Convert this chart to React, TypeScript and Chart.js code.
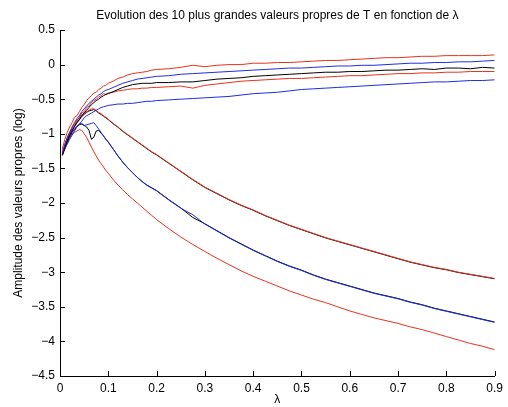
import React, { useEffect, useRef } from "react";
import { Chart, registerables } from "chart.js";

Chart.register(...registerables);

const LAMBDA = [
  0.005, 0.01, 0.015, 0.02, 0.025, 0.03, 0.035, 0.04, 0.045, 0.05,
  0.055, 0.06, 0.065, 0.07, 0.075, 0.08, 0.085, 0.09, 0.095, 0.1,
  0.11, 0.12, 0.13, 0.14, 0.15, 0.16, 0.17, 0.18, 0.19, 0.2,
  0.225, 0.25, 0.275, 0.3, 0.325, 0.35, 0.375, 0.4, 0.425, 0.45,
  0.475, 0.5, 0.525, 0.55, 0.575, 0.6, 0.625, 0.65, 0.675, 0.7,
  0.725, 0.75, 0.775, 0.8, 0.825, 0.85, 0.875, 0.9,
];

const X_TICKS = [0, 0.1, 0.2, 0.3, 0.4, 0.5, 0.6, 0.7, 0.8, 0.9];
const Y_TICKS = [0.5, 0, -0.5, -1, -1.5, -2, -2.5, -3, -3.5, -4, -4.5];

// upper group (rising)
const RED_TOP = [
  -1.22, -1.08, -0.98, -0.9, -0.84, -0.76, -0.74, -0.68, -0.62, -0.58,
  -0.52, -0.48, -0.45, -0.41, -0.4, -0.36, -0.34, -0.31, -0.3, -0.27,
  -0.24, -0.2, -0.18, -0.15, -0.13, -0.12, -0.11, -0.1, -0.08, -0.07,
  -0.06, -0.04, -0.01, -0.03, -0.01, 0.0, 0.0, 0.02, 0.02, 0.03,
  0.03, 0.04, 0.05, 0.06, 0.06, 0.07, 0.08, 0.09, 0.1, 0.1,
  0.11, 0.12, 0.12, 0.13, 0.13, 0.13, 0.13, 0.14,
];
const BLUE_UP = [
  -1.28, -1.15, -1.05, -0.98, -0.9, -0.84, -0.78, -0.74, -0.68, -0.64,
  -0.6, -0.56, -0.53, -0.5, -0.47, -0.44, -0.42, -0.39, -0.37, -0.36,
  -0.33, -0.3, -0.27, -0.25, -0.23, -0.21, -0.2, -0.19, -0.18, -0.17,
  -0.16, -0.14, -0.13, -0.12, -0.11, -0.1, -0.09, -0.08, -0.07, -0.06,
  -0.05, -0.05, -0.04, -0.03, -0.02, -0.02, -0.01, -0.01, 0.0, 0.01,
  0.02, 0.02, 0.03, 0.03, 0.04, 0.04, 0.05, 0.06,
];
const BLACK_UP = [
  -1.3, -1.2, -1.1, -1.02, -0.96, -0.9, -0.84, -0.8, -0.74, -0.7,
  -0.66, -0.62, -0.58, -0.55, -0.52, -0.5, -0.47, -0.45, -0.43, -0.42,
  -0.39, -0.36, -0.33, -0.31, -0.29, -0.28, -0.27, -0.27, -0.27, -0.26,
  -0.26, -0.25, -0.25, -0.23, -0.21, -0.2, -0.19, -0.17, -0.16, -0.15,
  -0.14, -0.13, -0.12, -0.11, -0.11, -0.1, -0.1, -0.09, -0.08, -0.08,
  -0.07, -0.06, -0.07, -0.05, -0.05, -0.06, -0.04, -0.05,
];
const RED_UP = [
  -1.25, -1.15, -1.08, -1.0, -0.95, -0.88, -0.8, -0.77, -0.7, -0.68,
  -0.62, -0.6, -0.55, -0.52, -0.5, -0.47, -0.45, -0.42, -0.43, -0.41,
  -0.4, -0.38, -0.37, -0.36, -0.35, -0.35, -0.34, -0.34, -0.33, -0.33,
  -0.32, -0.31, -0.34, -0.3, -0.28, -0.26, -0.24, -0.23, -0.22, -0.21,
  -0.2, -0.2, -0.19, -0.18, -0.17, -0.16, -0.16, -0.15, -0.14, -0.13,
  -0.13, -0.12, -0.12, -0.11, -0.11, -0.1, -0.1, -0.1,
];
const BLUE_LOW_UP = [
  -1.3, -1.22, -1.15, -1.08, -1.02, -0.96, -0.9, -0.86, -0.82, -0.77,
  -0.74, -0.72, -0.7, -0.68, -0.66, -0.64, -0.62, -0.61, -0.6, -0.59,
  -0.58, -0.57, -0.57, -0.56, -0.56, -0.55, -0.54, -0.53, -0.53, -0.52,
  -0.51, -0.5, -0.49, -0.48, -0.47, -0.46, -0.44, -0.42, -0.41, -0.4,
  -0.38, -0.36, -0.35, -0.34, -0.33, -0.32, -0.31, -0.3, -0.29, -0.28,
  -0.27, -0.26, -0.25, -0.25, -0.24, -0.23, -0.23, -0.22,
];

// lower group (falling)
const RED_DOWN_1 = [
  -1.27, -1.18, -1.06, -0.98, -0.92, -0.86, -0.82, -0.76, -0.73, -0.7,
  -0.68, -0.66, -0.64, -0.64, -0.66, -0.69, -0.71, -0.74, -0.76, -0.79,
  -0.85, -0.9, -0.96, -1.01, -1.06, -1.11, -1.16, -1.21, -1.26, -1.3,
  -1.42, -1.54, -1.66, -1.77, -1.86, -1.95, -2.03, -2.1, -2.18, -2.25,
  -2.32, -2.38, -2.44, -2.5, -2.55, -2.6, -2.65, -2.7, -2.75, -2.8,
  -2.85, -2.89, -2.93, -2.96, -3.0, -3.03, -3.06, -3.09,
];
const BLACK_DOWN_1 = [
  -1.3, -1.2, -1.1, -1.0, -0.94, -0.88, -0.84, -0.79, -0.75, -0.72,
  -0.69, -0.67, -0.66, -0.65, -0.67, -0.7, -0.72, -0.745, -0.77, -0.795,
  -0.855, -0.905, -0.965, -1.015, -1.065, -1.115, -1.165, -1.215, -1.265, -1.305,
  -1.425, -1.545, -1.665, -1.775, -1.865, -1.955, -2.035, -2.105, -2.185, -2.255,
  -2.325, -2.385, -2.445, -2.505, -2.555, -2.605, -2.655, -2.705, -2.755, -2.805,
  -2.855, -2.895, -2.935, -2.965, -3.005, -3.035, -3.065, -3.095,
];
const BLACK_DOWN_2 = [
  -1.3, -1.2, -1.12, -1.05, -0.98, -0.94, -0.9, -0.87, -0.86, -0.88,
  -0.9, -0.95, -1.08, -1.05, -0.96, -0.95, -0.99, -1.03, -1.08, -1.12,
  -1.22, -1.32, -1.41, -1.49, -1.56, -1.63, -1.69, -1.74, -1.78, -1.82,
  -1.95, -2.07, -2.21, -2.3, -2.4, -2.5, -2.59, -2.68, -2.76, -2.84,
  -2.91, -2.97, -3.04, -3.1, -3.15, -3.2, -3.25, -3.3, -3.34, -3.38,
  -3.43, -3.47, -3.52, -3.56, -3.6, -3.64, -3.68, -3.72,
];
const BLUE_DOWN_2 = [
  -1.28, -1.18, -1.1, -1.04, -0.97, -0.93, -0.89, -0.86, -0.85, -0.88,
  -0.87, -0.86, -0.85, -0.84, -0.88, -0.93, -0.98, -1.03, -1.08, -1.12,
  -1.22, -1.32, -1.41, -1.49, -1.56, -1.63, -1.69, -1.745, -1.785, -1.825,
  -1.955, -2.075, -2.17, -2.305, -2.405, -2.505, -2.595, -2.685, -2.765, -2.845,
  -2.915, -2.975, -3.045, -3.105, -3.155, -3.205, -3.255, -3.305, -3.345, -3.385,
  -3.435, -3.475, -3.525, -3.565, -3.605, -3.645, -3.685, -3.725,
];
const RED_DOWN_3 = [
  -1.32, -1.22, -1.12, -1.06, -1.0, -0.98, -0.96, -0.94, -0.95, -1.0,
  -1.05, -1.12, -1.19, -1.26, -1.32, -1.38, -1.43, -1.48, -1.53, -1.57,
  -1.66, -1.74, -1.81, -1.88, -1.94, -2.0, -2.06, -2.12, -2.18, -2.24,
  -2.37, -2.49, -2.6, -2.7, -2.8, -2.89, -2.98, -3.06, -3.13, -3.2,
  -3.27, -3.33, -3.39, -3.44, -3.5, -3.56, -3.61, -3.66, -3.7, -3.74,
  -3.79, -3.83, -3.88, -3.93, -3.98, -4.03, -4.07, -4.12,
];

const RED = "rgb(232,50,28)";
const BLUE = "rgb(30,45,225)";
const BLACK = "#000000";
const FONT = '"Liberation Sans", Arial, Helvetica, sans-serif';

const fmt = (v: number) => {
  const r = Math.round(v * 10) / 10;
  if (r === 0) return "0";
  const s = Math.abs(r).toString();
  return r < 0 ? "\u2212" + s : s;
};

export default function App() {
  const ref = useRef<HTMLCanvasElement>(null);

  useEffect(() => {
    if (!ref.current) return;
    const pts = (ys: number[]) => LAMBDA.map((x, i) => ({ x, y: ys[i] }));
    const ds = (label: string, ys: number[], color: string) => ({
      label,
      data: pts(ys),
      borderColor: color,
      backgroundColor: color,
      borderWidth: 1,
      pointRadius: 0,
      tension: 0,
      fill: false,
    });

    const inwardTicks = {
      id: "inwardTicks",
      afterDraw(chart: any) {
        const { ctx, scales, chartArea } = chart;
        const xs = scales.x;
        const ysc = scales.y;
        ctx.save();
        ctx.strokeStyle = "#000";
        ctx.lineWidth = 1;
        ctx.beginPath();
        X_TICKS.forEach((v) => {
          const px = Math.round(xs.getPixelForValue(v)) + 0.5;
          ctx.moveTo(px, chartArea.bottom);
          ctx.lineTo(px, chartArea.bottom - 5);
        });
        Y_TICKS.forEach((v) => {
          const py = Math.round(ysc.getPixelForValue(v)) + 0.5;
          ctx.moveTo(chartArea.left, py);
          ctx.lineTo(chartArea.left + 5, py);
        });
        ctx.stroke();
        ctx.restore();
      },
    };

    const chart = new Chart(ref.current, {
      type: "line",
      data: {
        datasets: [
          ds("λ1", RED_TOP, RED),
          ds("λ2", BLUE_UP, BLUE),
          ds("λ3", BLACK_UP, BLACK),
          ds("λ4", RED_UP, RED),
          ds("λ5", BLUE_LOW_UP, BLUE),
          ds("λ6", RED_DOWN_1, RED),
          ds("λ7", BLACK_DOWN_1, BLACK),
          ds("λ8", BLUE_DOWN_2, BLUE),
          ds("λ9", BLACK_DOWN_2, BLACK),
          ds("λ10", RED_DOWN_3, RED),
        ],
      },
      options: {
        animation: false,
        responsive: false,
        maintainAspectRatio: false,
        devicePixelRatio: 1,
        layout: { padding: { left: 0, right: 9, top: 0, bottom: 0 } },
        plugins: {
          legend: { display: false },
          tooltip: { enabled: false },
          title: {
            display: true,
            fullSize: false,
            text: "Evolution des 10 plus grandes valeurs propres de T en fonction de λ",
            color: "#000",
            font: { family: FONT, size: 12, weight: "normal" },
            padding: { top: 8, bottom: 7.6 },
          },
        },
        scales: {
          x: {
            type: "linear",
            min: 0,
            max: 0.9,
            grid: { display: false, drawTicks: false },
            border: { display: true, color: "#000", width: 1 },
            ticks: {
              stepSize: 0.1,
              padding: 5,
              color: "#000",
              autoSkip: false,
              maxRotation: 0,
              font: { family: FONT, size: 12 },
              callback: (v: any) => fmt(Number(v)),
            },
            title: {
              display: true,
              text: "λ",
              color: "#000",
              font: { family: FONT, size: 12 },
              padding: { top: 0, bottom: 0 },
            },
            afterFit: (s: any) => {
              s.height = 31;
            },
          },
          y: {
            type: "linear",
            min: -4.5,
            max: 0.5,
            grid: { display: false, drawTicks: false },
            border: { display: true, color: "#000", width: 1 },
            ticks: {
              stepSize: 0.5,
              padding: 5,
              color: "#000",
              autoSkip: false,
              font: { family: FONT, size: 12 },
              callback: (v: any) => fmt(Number(v)),
            },
            title: {
              display: true,
              text: "Amplitude des valeurs propres (log)",
              color: "#000",
              font: { family: FONT, size: 12 },
              padding: { top: 11, bottom: 0 },
            },
            afterFit: (s: any) => {
              s.width = 60;
            },
          },
        },
      },
      plugins: [inwardTicks],
    } as any);

    return () => chart.destroy();
  }, []);

  return (
    <div
      style={{
        position: "fixed",
        left: 0,
        top: 0,
        width: 508,
        height: 407,
        background: "#fff",
      }}
    >
      <canvas
        ref={ref}
        width={508}
        height={407}
        style={{ width: 508, height: 407, display: "block" }}
      />
    </div>
  );
}
